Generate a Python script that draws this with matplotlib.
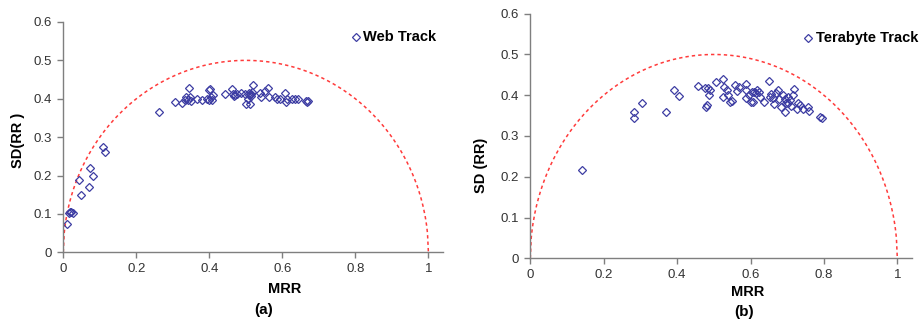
import numpy as np
import matplotlib
matplotlib.use("Agg")
import matplotlib.pyplot as plt

plt.rcParams['font.family'] = ['Liberation Sans', 'DejaVu Sans']

# Web Track (a)
web_mrr = [0.011, 0.015, 0.018, 0.022, 0.027, 0.044, 0.048, 0.071, 0.074, 0.080,
           0.108, 0.115, 0.261, 0.307, 0.326, 0.334, 0.337, 0.344, 0.342, 0.348,
           0.351, 0.365, 0.381, 0.394, 0.398, 0.401, 0.399, 0.404, 0.410, 0.408,
           0.442, 0.462, 0.465, 0.469, 0.476, 0.488, 0.497, 0.501, 0.512, 0.506,
           0.510, 0.515, 0.520, 0.518, 0.538, 0.542, 0.553, 0.561, 0.563, 0.579,
           0.585, 0.593, 0.608, 0.611, 0.613, 0.627, 0.634, 0.643, 0.664, 0.667,
           0.671, 0.467, 0.513, 0.508]
web_sd = [0.074, 0.103, 0.105, 0.105, 0.102, 0.188, 0.149, 0.171, 0.220, 0.200,
          0.275, 0.261, 0.365, 0.392, 0.388, 0.397, 0.405, 0.428, 0.397, 0.405,
          0.395, 0.399, 0.397, 0.400, 0.422, 0.426, 0.397, 0.404, 0.411, 0.397,
          0.412, 0.426, 0.412, 0.410, 0.412, 0.416, 0.412, 0.386, 0.386, 0.400,
          0.410, 0.412, 0.435, 0.418, 0.414, 0.405, 0.421, 0.428, 0.404, 0.404,
          0.400, 0.400, 0.414, 0.391, 0.400, 0.400, 0.400, 0.399, 0.395, 0.392,
          0.393, 0.408, 0.408, 0.414]

# Terabyte Track (b)
tb_mrr = [0.141, 0.282, 0.282, 0.304, 0.371, 0.392, 0.404, 0.456, 0.476, 0.478,
          0.481, 0.485, 0.490, 0.488, 0.507, 0.525, 0.527, 0.524, 0.535, 0.539,
          0.544, 0.549, 0.559, 0.562, 0.568, 0.588, 0.589, 0.588, 0.595, 0.602,
          0.606, 0.604, 0.610, 0.615, 0.619, 0.623, 0.626, 0.637, 0.651, 0.653,
          0.656, 0.660, 0.664, 0.669, 0.676, 0.678, 0.682, 0.688, 0.694, 0.695,
          0.698, 0.703, 0.703, 0.708, 0.710, 0.715, 0.719, 0.728, 0.730, 0.735,
          0.744, 0.757, 0.760, 0.790, 0.796]
tb_sd = [0.217, 0.360, 0.343, 0.380, 0.360, 0.414, 0.398, 0.423, 0.418, 0.372,
         0.377, 0.418, 0.413, 0.400, 0.432, 0.440, 0.421, 0.396, 0.414, 0.401,
         0.383, 0.386, 0.424, 0.411, 0.421, 0.428, 0.413, 0.392, 0.401, 0.384,
         0.384, 0.409, 0.408, 0.406, 0.414, 0.409, 0.395, 0.383, 0.434, 0.396,
         0.402, 0.393, 0.378, 0.405, 0.414, 0.390, 0.372, 0.401, 0.390, 0.358,
         0.382, 0.396, 0.380, 0.388, 0.374, 0.401, 0.416, 0.367, 0.380, 0.377,
         0.367, 0.370, 0.361, 0.347, 0.343]

x_ticks = [0, 0.2, 0.4, 0.6, 0.8, 1]
x_labels = ['0', '0.2', '0.4', '0.6', '0.8', '1']
y_ticks = [0, 0.1, 0.2, 0.3, 0.4, 0.5, 0.6]
y_labels = ['0', '0.1', '0.2', '0.3', '0.4', '0.5', '0.6']

W, H = 922, 320
fig = plt.figure(figsize=(W / 100, H / 100), dpi=100)

def px_axes(x0, y_top, x1, y_bot):
    return fig.add_axes([x0 / W, 1 - y_bot / H, (x1 - x0) / W, (y_bot - y_top) / H])

ax1 = px_axes(63.3, 22.0, 443.0, 252.3)
ax2 = px_axes(530.3, 13.7, 912.0, 258.3)

# theoretical upper bound SD = sqrt(MRR * (1 - MRR))
m = np.linspace(0, 1, 400)
bound = np.sqrt(m * (1 - m))

marker_col = '#3d3da3'
spine_col = '#7f7f7f'

for ax, xs, ys in [(ax1, web_mrr, web_sd), (ax2, tb_mrr, tb_sd)]:
    ax.plot(m, bound, color='#ff3b3b', lw=1.1, ls=(0, (2.2, 2.0)), zorder=1)
    ax.plot(xs, ys, ls='none', marker='D', ms=4.4, mfc='none',
            mec=marker_col, mew=0.9, zorder=2)
    ax.set_xlim(0, 1.04)
    ax.set_ylim(0, 0.6)
    ax.set_xticks(x_ticks)
    ax.set_xticklabels(x_labels)
    ax.set_yticks(y_ticks)
    ax.set_yticklabels(y_labels)
    for s in ['top', 'right']:
        ax.spines[s].set_visible(False)
    for s in ['left', 'bottom']:
        ax.spines[s].set_color(spine_col)
        ax.spines[s].set_linewidth(1.0)
    ax.tick_params(axis='both', direction='out', length=4, width=1.0,
                   color=spine_col, labelsize=9.5, labelcolor='#333333', pad=4)
    ax.patch.set_alpha(0)

def legend(x_marker, y, x_text, label):
    fig.add_artist(plt.Line2D([x_marker / W], [1 - y / H], transform=fig.transFigure,
                              ls='none', marker='D', ms=4.4, mfc='none',
                              mec=marker_col, mew=0.9))
    fig.text(x_text / W, 1 - y / H, label, fontsize=10.5, fontweight='bold',
             ha='left', va='center', color='black')

legend(356, 36.7, 363, 'Web Track')
legend(807.7, 37.7, 816, 'Terabyte Track')

# Axis labels
fig.text(285 / W, 1 - 289 / H, 'MRR', fontsize=10.5, fontweight='bold', ha='center', va='center')
fig.text(264 / W, 1 - 310 / H, '(a)', fontsize=11, fontweight='bold', ha='center', va='center')
fig.text(748 / W, 1 - 292 / H, 'MRR', fontsize=10.5, fontweight='bold', ha='center', va='center')
fig.text(744 / W, 1 - 312 / H, '(b)', fontsize=11, fontweight='bold', ha='center', va='center')
fig.text(18 / W, 1 - 140 / H, 'SD(RR )', fontsize=10.5, fontweight='bold', rotation=90,
         ha='center', va='center')
fig.text(481 / W, 1 - 165 / H, 'SD (RR)', fontsize=10.5, fontweight='bold', rotation=90,
         ha='center', va='center')

fig.savefig('out.png', dpi=100, facecolor='white')
